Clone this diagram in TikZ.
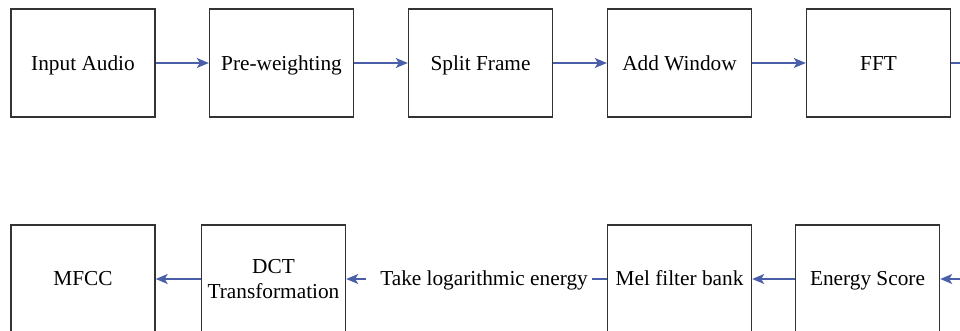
\documentclass[tikz,border=0pt]{standalone}
\usepackage{fontspec}
\setmainfont{Liberation Serif}
\usetikzlibrary{arrows.meta}
\definecolor{boxline}{HTML}{333333}
\definecolor{flow}{HTML}{4B5EAA}
\begin{document}
\begin{tikzpicture}[x=1pt,y=-1pt,
  stage/.style={draw=boxline,line width=1.4pt,minimum width=144pt,minimum height=108pt,
    inner sep=0pt,align=center,font=\fontsize{21.3}{25}\selectfont,fill=white,
    text height=16pt,text depth=0pt},
  lower/.style={text height=13pt,text depth=0pt},
  twoline/.style={text height=,text depth=},
  flowarrow/.style={draw=flow,line width=1.4pt,-{Stealth[length=12pt,width=10pt,inset=3pt]}},
  flowline/.style={draw=flow,line width=1.4pt},
  label/.style={inner sep=4pt,font=\fontsize{21.3}{25}\selectfont}]
  \useasboundingbox (0,0) rectangle (960,331);
  \begin{scope}
  \clip (0,0) rectangle (960,331);
  % first row
  \node[stage] (input) at (83,63) {Input Audio};
  \node[stage] (pre) at (281.5,63) {Pre-weighting};
  \node[stage] (split) at (480.5,63) {Split Frame};
  \node[stage] (win) at (679.5,63) {Add Window};
  \node[stage] (fft) at (878.5,63) {FFT};
  \coordinate (fftout) at (990,63);
  % second row
  \node[stage,lower] (mfcc) at (83,279) {MFCC};
  \node[stage,twoline] (dct) at (273.5,279) {DCT\\Transformation};
  \node[label,lower] (log) at (484,279) {Take logarithmic energy};
  \node[stage,lower] (mel) at (679.5,279) {Mel filter bank};
  \node[stage,lower] (energy) at (867.5,279) {Energy Score};
  \coordinate (energyin) at (990,279);
  % connectors
  \draw[flowarrow] (input) -- (pre);
  \draw[flowarrow] (pre) -- (split);
  \draw[flowarrow] (split) -- (win);
  \draw[flowarrow] (win) -- (fft);
  \draw[flowline] (fft) -- (fftout);
  \draw[flowarrow] (energyin) -- (energy);
  \draw[flowarrow] (energy) -- (mel);
  \draw[flowline] (mel) -- (log);
  \draw[flowarrow] ([xshift=-10pt]log.west) -- (dct);
  \draw[flowarrow] (dct) -- (mfcc);
  \end{scope}
\end{tikzpicture}
\end{document}
